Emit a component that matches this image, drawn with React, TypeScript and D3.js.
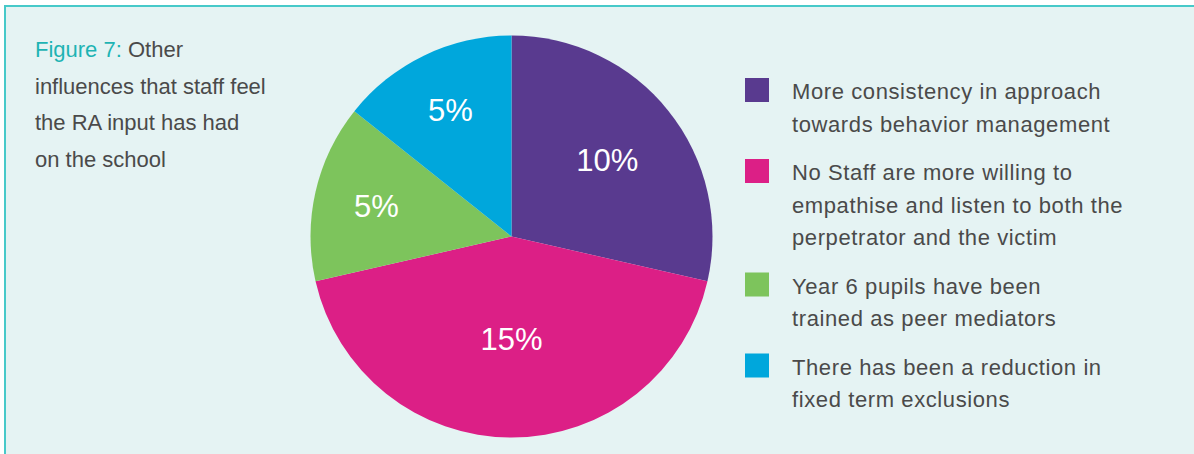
import * as d3 from 'd3'

const categories = [
  ['More consistency in approach', 'towards behavior management'],
  ['No Staff are more willing to', 'empathise and listen to both the', 'perpetrator and the victim'],
  ['Year 6 pupils have been', 'trained as peer mediators'],
  ['There has been a reduction in', 'fixed term exclusions'],
]
const values = [10, 15, 5, 5]
const valueLabels = ['10%', '15%', '5%', '5%']
const colors = ['#593a8f', '#dc1f86', '#7dc45c', '#00a7dc']
const titleLines = ['influences that staff feel', 'the RA input has had', 'on the school']

const width = 1194,
      height = 454,
      cx = 511.5,
      cy = 236.5,
      radius = 201,
      // where each % label sits, as a share of the radius
      labelRadius = [0.61, 0.51, 0.69, 0.7],
      legendX = 745,
      legendTextX = 792,
      lineHeight = 32.5,
      itemGap = 48.5,
      textColor = '#4a4a4a',
      font = "'Liberation Sans', Arial, sans-serif"

export default function App() {
  const pie = d3.pie<number>().sort(null).value(d => d)
  const arcs = pie(values)
  const arc = d3.arc<d3.PieArcDatum<number>>().innerRadius(0).outerRadius(radius)

  // legend baselines, one item after another
  let y = 99
  const legendRows = categories.map(lines => {
    const start = y
    y += (lines.length - 1) * lineHeight + itemGap
    return start
  })

  return (
    <svg width={width} height={height} style={{ position: 'fixed', left: 0, top: 0, background: '#fff' }}
      fontFamily={font}>
      <rect x={5} y={6} width={width + 20} height={height + 20} fill='#e5f3f3' stroke='#47c9c9' strokeWidth={2} />

      <g className='title' fontSize={22} fill={textColor}>
        <text x={35} y={57}>
          <tspan fill='#1eb3b3'>Figure 7:</tspan> Other
        </text>
        {titleLines.map((t, i) => (
          <text key={t} x={35} y={57 + (i + 1) * 36.7}>{t}</text>
        ))}
      </g>

      <g className='pie' transform={`translate(${cx}, ${cy})`}>
        {arcs.map((a, i) => (
          <path key={i} d={arc(a) || ''} fill={colors[i]} />
        ))}
        {arcs.map((a, i) => {
          const r = radius * labelRadius[i]
          const [lx, ly] = d3.arc<d3.PieArcDatum<number>>().innerRadius(r).outerRadius(r).centroid(a)
          return (
            <text key={i} x={lx} y={ly} dy='0.36em' textAnchor='middle' fill='#fff'
              fontSize={31}>{valueLabels[i]}</text>
          )
        })}
      </g>

      <g className='legend' fontSize={22} letterSpacing={0.6} fill={textColor}>
        {categories.map((lines, i) => (
          <g key={i}>
            <rect x={legendX} y={legendRows[i] - 21} width={24} height={24} fill={colors[i]} />
            {lines.map((l, j) => (
              <text key={j} x={legendTextX} y={legendRows[i] + j * lineHeight}>{l}</text>
            ))}
          </g>
        ))}
      </g>
    </svg>
  )
}
